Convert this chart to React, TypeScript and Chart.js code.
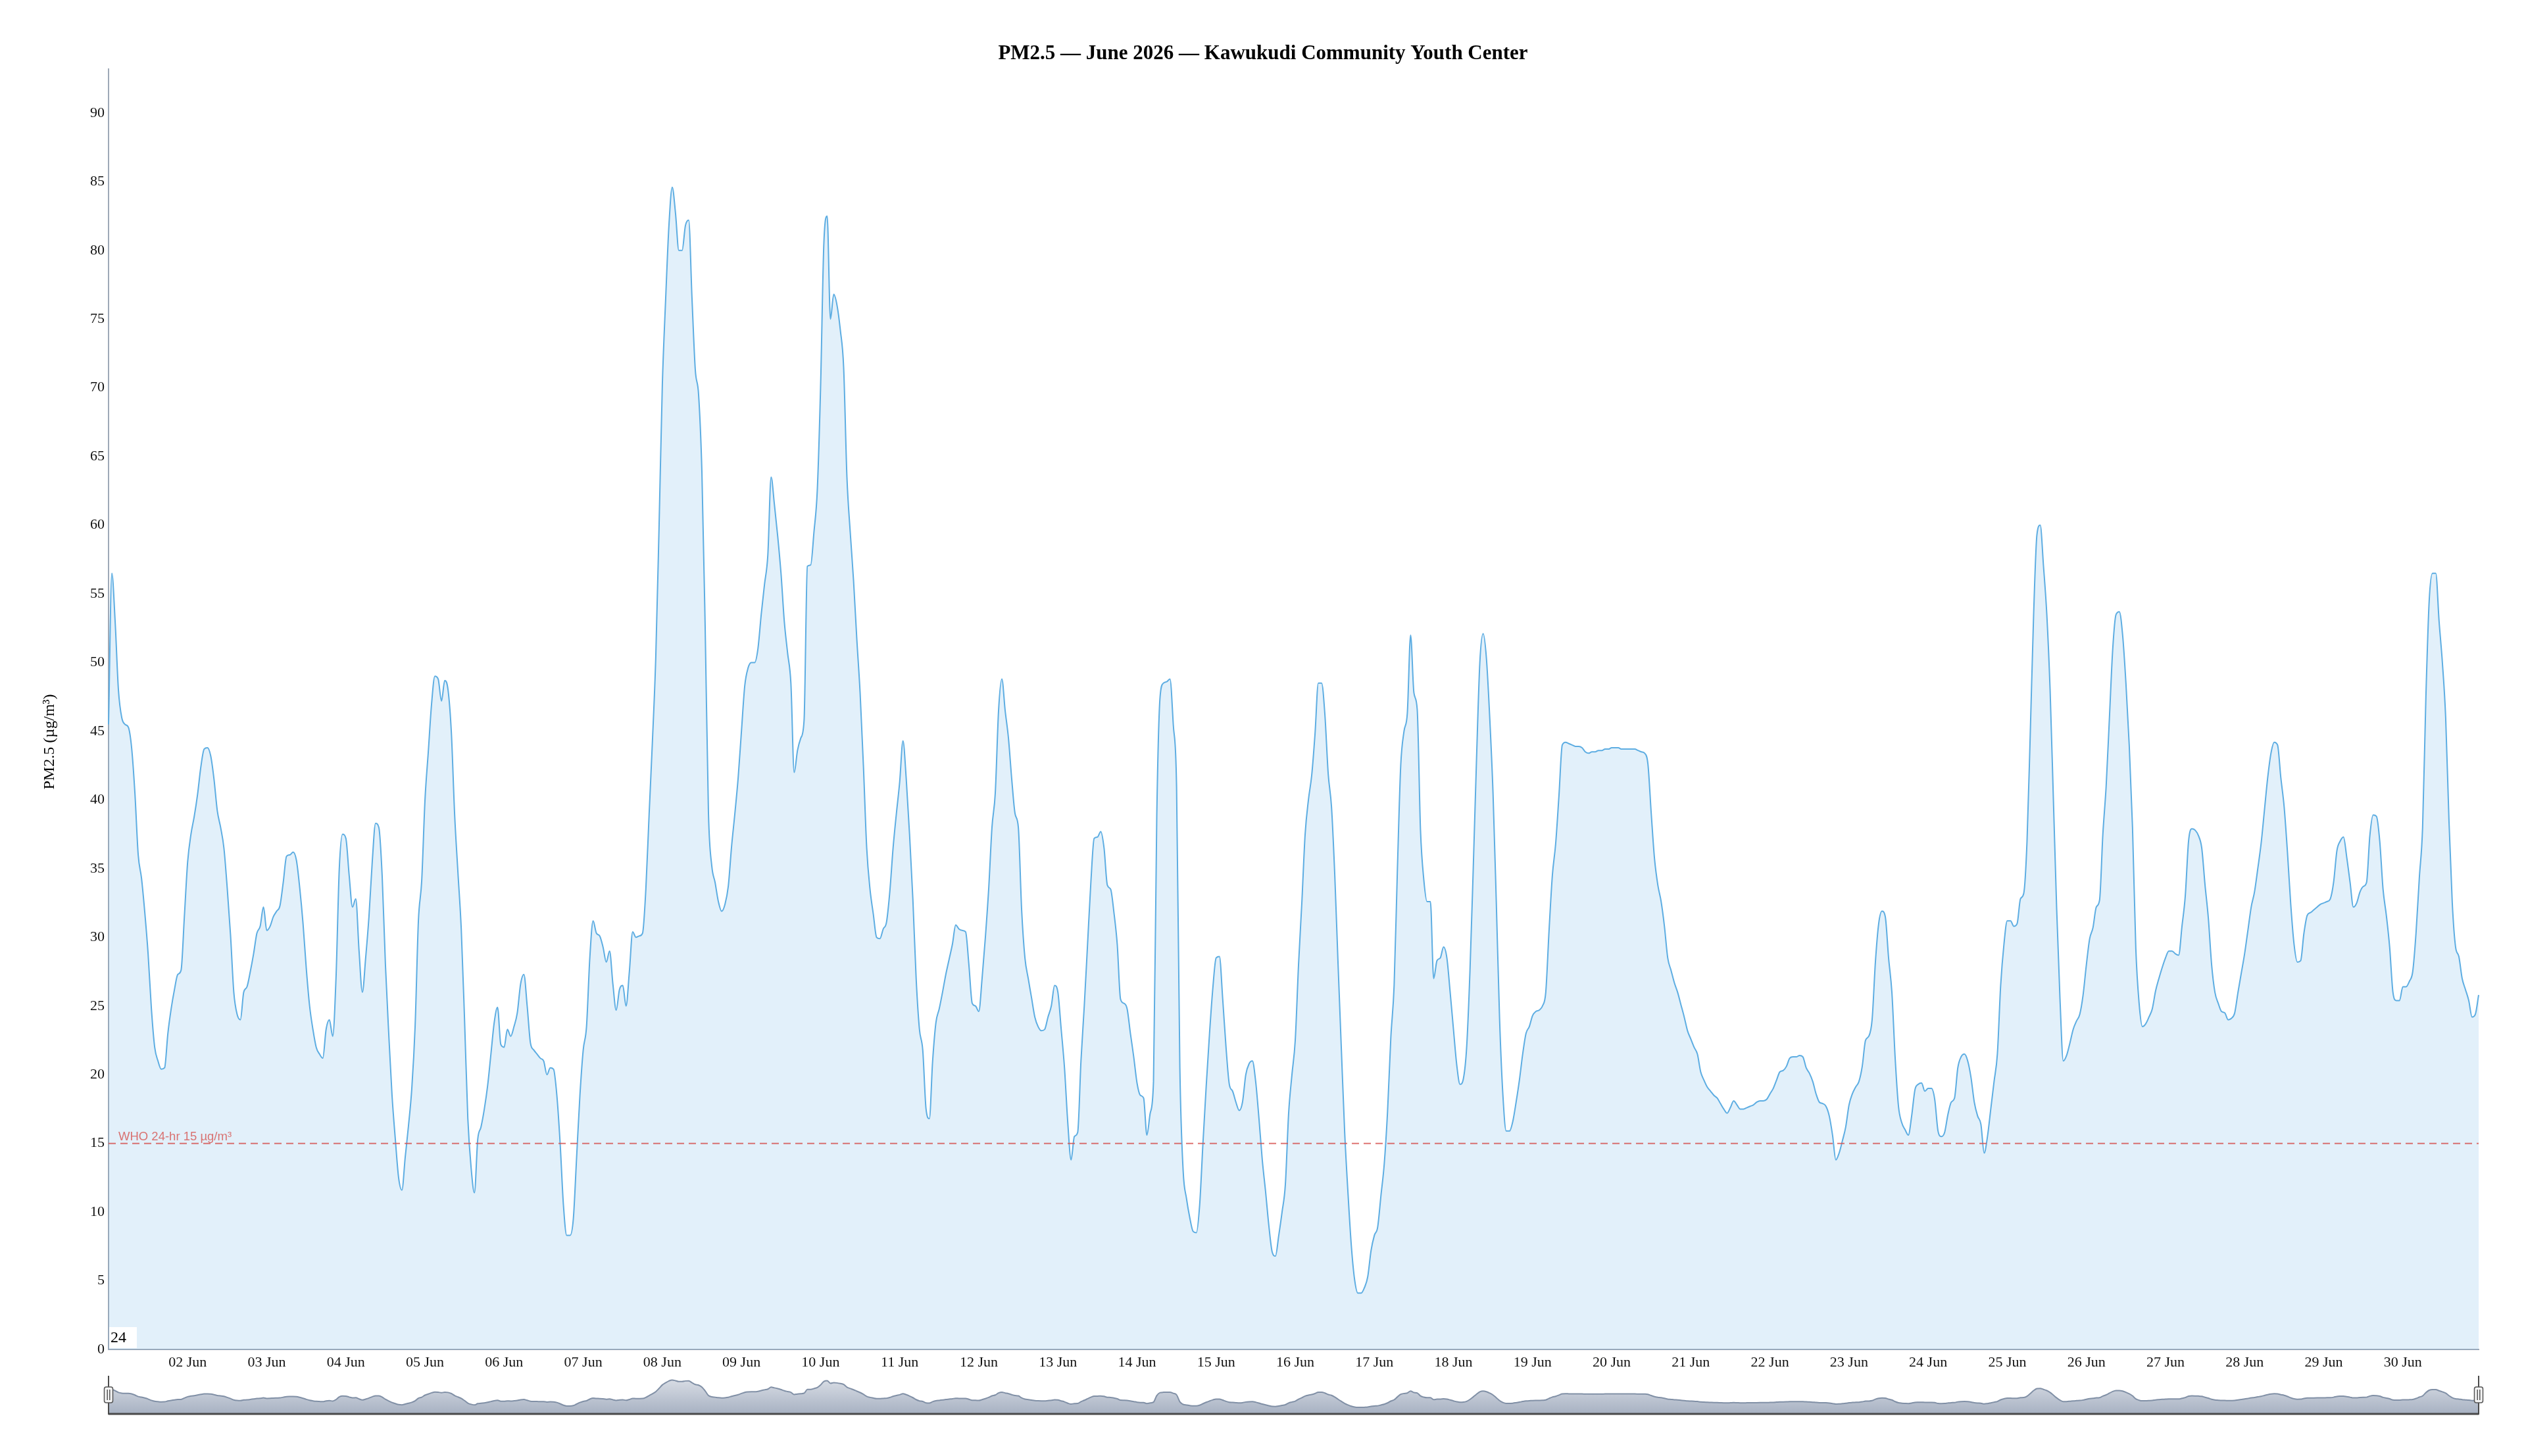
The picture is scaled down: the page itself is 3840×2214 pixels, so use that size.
import React, { useEffect, useRef } from "react";
import { Chart, registerables } from "chart.js";

Chart.register(...registerables);

const CANVAS_W = 3840;
const CANVAS_H = 2214;

const TITLE = "PM2.5 — June 2026 — Kawukudi Community Youth Center";
const Y_AXIS_TITLE = "PM2.5 (µg/m³)";
const WHO_LIMIT = 15;
const WHO_LABEL = "WHO 24-hr 15 µg/m³";
const Y_MIN = 0;
const Y_MAX = 93.2;
const Y_STEP = 5;
const CORNER_LABEL = "24";
const HOURS_PER_DAY = 24;
const SLIDER_MIN = -15;
const SLIDER_MAX = 97;

const dayLabels = [
  "01 Jun", "02 Jun", "03 Jun", "04 Jun", "05 Jun", "06 Jun", "07 Jun", "08 Jun", "09 Jun", "10 Jun",
  "11 Jun", "12 Jun", "13 Jun", "14 Jun", "15 Jun", "16 Jun", "17 Jun", "18 Jun", "19 Jun", "20 Jun",
  "21 Jun", "22 Jun", "23 Jun", "24 Jun", "25 Jun", "26 Jun", "27 Jun", "28 Jun", "29 Jun", "30 Jun",
];

// Hourly PM2.5 (µg/m³), one row per day
const pm25Jun01to05 = [
  45.5, 56.5, 53, 48, 46, 45.5, 45.3, 43.8, 40.5, 36, 34.3, 31.8, 28.8, 24.8, 22, 21, 20.4, 20.5, 23, 24.8, 26.2, 27.3, 27.6, 31.5,
  35.5, 37.5, 38.8, 40.4, 42.4, 43.7, 43.8, 43.2, 41.5, 39.2, 38, 36.5, 33.6, 30.2, 26, 24.4, 24, 26, 26.4, 27.5, 28.8, 30.3, 30.8, 32.2,
  30.5, 30.8, 31.5, 31.9, 32.3, 34, 35.9, 36, 36.2, 35.6, 33.6, 31, 27.7, 25, 23.3, 22, 21.5, 21.2, 23.3, 24, 22.8, 27, 35, 37.5,
  37.2, 34.5, 32.2, 32.8, 29, 26, 28.5, 31.5, 35.5, 38.3, 38, 34.5, 28, 23, 18.5, 15.3, 12.5, 11.6, 14, 16.3, 19, 23.5, 31.2, 34.1,
  40, 43.5, 47, 49, 48.8, 47.2, 48.7, 48, 44.9, 38.9, 34.7, 30.6, 24, 16.8, 13.2, 11.4, 15.3, 16.2, 17.5, 19.2, 21.5, 23.8, 24.9, 22.2,
];
const pm25Jun06to10 = [
  22, 23.3, 22.8, 23.5, 24.5, 26.6, 27.3, 25, 22.3, 21.8, 21.5, 21.2, 21, 20, 20.5, 20.4, 18.5, 15, 10.5, 8.3, 8.3, 9.5, 14, 18.5,
  21.8, 23.5, 28.5, 31.2, 30.3, 30.1, 29.3, 28.2, 29, 26.6, 24.7, 26.2, 26.5, 25, 27.5, 30.4, 30, 30.1, 30.3, 33.5, 39, 44.3, 50.3, 59.8,
  70.2, 76.4, 81.8, 84.6, 82.7, 80, 80, 81.8, 82.2, 76.5, 71.3, 69.5, 63.9, 52.5, 39, 35.2, 34, 32.6, 31.9, 32.4, 33.7, 36.6, 39, 41.6,
  45, 48.3, 49.6, 50, 50, 51, 53.5, 55.7, 57.8, 63.5, 61.5, 59.2, 56.5, 53, 50.7, 48.5, 42, 43.6, 44.5, 45.8, 57, 57.1, 59.5, 62.5,
  70, 80.5, 82.5, 75, 76.8, 76, 74.2, 71.5, 63.5, 59.5, 56, 51.7, 47.8, 42.5, 36.5, 33.5, 31.7, 30, 29.9, 30.6, 31.1, 33.3, 36.5, 39,
];
const pm25Jun11to15 = [
  41.3, 44.3, 41.5, 37.5, 32.8, 27, 23.3, 21.8, 17.5, 16.8, 21, 23.8, 24.8, 26, 27.3, 28.4, 29.5, 30.9, 30.6, 30.5, 30.4, 28, 25.2, 25,
  24.6, 27, 30, 33.5, 38, 40.5, 46.5, 48.8, 46.5, 44.5, 41.5, 39, 38, 32, 28.5, 27, 25.6, 24.2, 23.5, 23.2, 23.3, 24.2, 25, 26.5,
  26, 23.3, 20.5, 16.5, 13.8, 15.5, 15.8, 21, 25, 29.5, 34, 37.2, 37.3, 37.7, 36.5, 33.8, 33.5, 31.8, 29.5, 25.5, 25.2, 24.8, 23, 21.3,
  19.4, 18.5, 18.3, 15.6, 17.2, 19.5, 38.9, 47.5, 48.5, 48.6, 48.8, 45.5, 41, 20.5, 13, 11, 9.6, 8.6, 8.5, 10.5, 15, 19.2, 23, 26.3,
  28.5, 28.6, 25.5, 22, 19.3, 18.8, 18, 17.4, 18, 20, 20.8, 21, 19.5, 16.8, 13.8, 11.5, 9, 7.1, 6.8, 8.3, 10, 12, 17.2, 20,
];
const pm25Jun16to20 = [
  22.5, 28, 32.5, 37.5, 40, 41.8, 44.8, 48.5, 48.5, 46.2, 41.9, 39.5, 34.5, 28, 21.8, 15.8, 11.4, 7.6, 5.1, 4.1, 4.1, 4.5, 5.3, 7.2,
  8.3, 8.9, 11.2, 13.5, 17.3, 22.7, 26.5, 35, 42.5, 45, 46.3, 52, 47.8, 46.6, 37.8, 34.2, 32.6, 32.6, 27, 28.3, 28.5, 29.3, 28.5, 26,
  23.3, 20.7, 19.3, 19.7, 22, 27.5, 35, 43, 50, 52.1, 50.3, 46, 40.5, 32.5, 24, 18.5, 15.9, 15.9, 16.6, 18, 19.6, 21.5, 23, 23.5,
  24.3, 24.6, 24.7, 25, 26, 30.5, 34.5, 36.8, 40.3, 44, 44.2, 44.1, 44, 43.9, 43.9, 43.8, 43.5, 43.4, 43.5, 43.5, 43.6, 43.6, 43.7, 43.7,
  43.8, 43.8, 43.8, 43.7, 43.7, 43.7, 43.7, 43.7, 43.6, 43.5, 43.4, 42.6, 39, 35.7, 33.8, 32.6, 30.8, 28.5, 27.6, 26.7, 26, 25.1, 24.2, 23.2,
];
const pm25Jun21to25 = [
  22.6, 22, 21.5, 20.2, 19.6, 19.1, 18.8, 18.5, 18.3, 17.9, 17.5, 17.2, 17.6, 18.1, 17.8, 17.5, 17.5, 17.6, 17.7, 17.8, 18, 18.1, 18.1, 18.2,
  18.6, 19, 19.6, 20.2, 20.3, 20.6, 21.2, 21.3, 21.3, 21.4, 21.3, 20.5, 20.1, 19.5, 18.6, 18, 17.9, 17.7, 17, 15.6, 13.8, 14.3, 15.2, 16.2,
  17.8, 18.6, 19.1, 19.5, 20.6, 22.5, 22.8, 24, 28.2, 31, 31.9, 31.5, 28.5, 26, 21.2, 17.7, 16.5, 16, 15.6, 17, 18.9, 19.3, 19.4, 18.8,
  19, 19, 18.2, 15.9, 15.5, 15.8, 17.1, 18, 18.3, 20.5, 21.3, 21.5, 21, 19.8, 18, 17, 16.4, 14.3, 15.5, 17.5, 19.5, 21.5, 26.5, 29.5,
  31.2, 31.2, 30.8, 31, 32.8, 33.2, 37, 45, 53.5, 59.3, 60, 57, 53.5, 48, 40, 32, 25.5, 21, 21.4, 22.3, 23.3, 23.9, 24.4, 25.8,
];
const pm25Jun26to30 = [
  28, 29.9, 30.7, 32.2, 32.7, 37.5, 41, 46, 51, 53.5, 53.7, 52, 48.5, 44, 38, 29.2, 25.2, 23.5, 23.7, 24.2, 24.8, 26.1, 27, 27.8,
  28.5, 29, 29, 28.8, 28.7, 30.8, 33, 37, 37.9, 37.8, 37.4, 36.5, 33.8, 31.4, 28, 26, 25.2, 24.6, 24.5, 24, 24.1, 24.5, 26, 27.4,
  28.8, 30.5, 32.2, 33.3, 35, 36.8, 39.2, 41.6, 43.4, 44.2, 44, 41.6, 39.5, 36.2, 32.4, 29.5, 28.2, 28.3, 30.3, 31.6, 31.8, 32, 32.2, 32.4,
  32.5, 32.6, 32.8, 34, 36.3, 37, 37.3, 35.8, 34, 32.2, 32.5, 33.3, 33.7, 34, 37.4, 38.9, 38.8, 37, 33.5, 31.6, 29.3, 26, 25.4, 25.4,
  26.4, 26.4, 26.8, 27.5, 30.3, 34.3, 38, 47.5, 54.5, 56.5, 56.5, 53, 50, 46, 38.5, 32.5, 29.3, 28.6, 27, 26.2, 25.4, 24.2, 24.4, 25.8,
];

const pm25 = [
  ...pm25Jun01to05,
  ...pm25Jun06to10,
  ...pm25Jun11to15,
  ...pm25Jun16to20,
  ...pm25Jun21to25,
  ...pm25Jun26to30,
];

const hourLabels = pm25.map(
  (_, i) =>
    `${dayLabels[Math.floor(i / HOURS_PER_DAY)]} ${String(i % HOURS_PER_DAY).padStart(2, "0")}:00`
);

const LINE_COLOR = "#5dade2";
const FILL_COLOR = "rgba(93,173,226,0.18)";
const AXIS_COLOR = "#9ea9b7";
const WHO_COLOR = "rgba(214,80,76,0.78)";
const SERIF = '"Liberation Serif", "Times New Roman", serif';
const SANS = '"Liberation Sans", Arial, sans-serif';

const overlayPlugin = {
  id: "overlay",
  afterDatasetsDraw(chart: any) {
    const { ctx, chartArea, scales } = chart;
    const y = scales.y.getPixelForValue(WHO_LIMIT);
    ctx.save();
    ctx.strokeStyle = WHO_COLOR;
    ctx.lineWidth = 2;
    ctx.setLineDash([11, 7]);
    ctx.beginPath();
    ctx.moveTo(chartArea.left, y);
    ctx.lineTo(chartArea.right, y);
    ctx.stroke();
    ctx.setLineDash([]);
    ctx.fillStyle = WHO_COLOR;
    ctx.font = `18.5px ${SANS}`;
    ctx.textAlign = "left";
    ctx.textBaseline = "alphabetic";
    ctx.fillText(WHO_LABEL, chartArea.left + 15, y - 5);

    ctx.fillStyle = "#ffffff";
    ctx.fillRect(chartArea.left + 1, chartArea.bottom - 34, 42, 32);
    ctx.fillStyle = "#000000";
    ctx.font = `24px ${SERIF}`;
    ctx.textBaseline = "middle";
    ctx.fillText(CORNER_LABEL, chartArea.left + 3, chartArea.bottom - 17);
    ctx.restore();
  },
  afterDraw(chart: any) {
    const { ctx } = chart;
    ctx.save();
    // chart title, centred on the full canvas width
    ctx.font = `bold 31px ${SERIF}`;
    ctx.fillStyle = "#000000";
    ctx.textAlign = "center";
    ctx.textBaseline = "middle";
    ctx.fillText(TITLE, chart.width / 2, 82);
    // y-axis name
    ctx.translate(76, 1128);
    ctx.rotate(-Math.PI / 2);
    ctx.font = `24px ${SERIF}`;
    ctx.fillText(Y_AXIS_TITLE, 0, 0);
    ctx.restore();
  },
};

const sliderPlugin = {
  id: "sliderDecor",
  afterDraw(chart: any) {
    const { ctx, chartArea: a } = chart;
    ctx.save();
    ctx.strokeStyle = "#4a4a4a";
    ctx.lineWidth = 3;
    ctx.beginPath();
    ctx.moveTo(a.left, a.bottom);
    ctx.lineTo(a.right, a.bottom);
    ctx.stroke();
    for (const x of [a.left, a.right]) {
      ctx.strokeStyle = "#4a4a4a";
      ctx.lineWidth = 2;
      ctx.beginPath();
      ctx.moveTo(x, a.top);
      ctx.lineTo(x, a.bottom + 1);
      ctx.stroke();
      const cy = a.top + 29;
      const hw = 6.5;
      const hh = 12;
      ctx.beginPath();
      if (ctx.roundRect) ctx.roundRect(x - hw, cy - hh, hw * 2, hh * 2, 3);
      else ctx.rect(x - hw, cy - hh, hw * 2, hh * 2);
      ctx.fillStyle = "#f4f4f4";
      ctx.fill();
      ctx.lineWidth = 1.5;
      ctx.strokeStyle = "#555555";
      ctx.stroke();
      ctx.beginPath();
      ctx.moveTo(x - 1.8, cy - 8);
      ctx.lineTo(x - 1.8, cy + 8);
      ctx.moveTo(x + 1.8, cy - 8);
      ctx.lineTo(x + 1.8, cy + 8);
      ctx.stroke();
    }
    ctx.restore();
  },
};

export default function App() {
  const mainRef = useRef<HTMLCanvasElement | null>(null);
  const sliderRef = useRef<HTMLCanvasElement | null>(null);

  useEffect(() => {
    document.body.style.margin = "0";
    document.body.style.overflow = "hidden";
    if (!mainRef.current || !sliderRef.current) return;

    const main = new Chart(mainRef.current, {
      type: "line",
      data: {
        labels: hourLabels,
        datasets: [
          {
            data: pm25,
            borderColor: LINE_COLOR,
            backgroundColor: FILL_COLOR,
            borderWidth: 2,
            fill: "origin",
            pointRadius: 0,
            pointHoverRadius: 0,
            tension: 0.3,
            cubicInterpolationMode: "monotone",
          },
        ],
      },
      options: {
        responsive: false,
        animation: false,
        devicePixelRatio: 1,
        events: [],
        layout: { padding: { left: 0, right: 72, top: 105, bottom: 0 } },
        plugins: {
          legend: { display: false },
          tooltip: { enabled: false },
          title: { display: false },
        },
        scales: {
          x: {
            type: "category",
            offset: false,
            z: 1,
            grid: { display: false, drawTicks: false },
            border: { display: true, color: AXIS_COLOR, width: 2 },
            ticks: {
              autoSkip: false,
              maxRotation: 0,
              minRotation: 0,
              padding: 7,
              color: "#111111",
              font: { family: SERIF, size: 22 },
              callback: (_v: any, i: number) =>
                i > 0 && i % HOURS_PER_DAY === 0 ? dayLabels[i / HOURS_PER_DAY] : "",
            },
            afterFit: (s: any) => {
              s.height = 162;
            },
          },
          y: {
            min: Y_MIN,
            max: Y_MAX,
            z: 1,
            grid: { display: false, drawTicks: false },
            border: { display: true, color: AXIS_COLOR, width: 2 },
            ticks: {
              stepSize: Y_STEP,
              padding: 6,
              color: "#111111",
              font: { family: SERIF, size: 22 },
            },
            afterBuildTicks: (s: any) => {
              s.ticks = s.ticks.filter((t: any) => Math.abs(t.value % Y_STEP) < 1e-9);
            },
            afterFit: (s: any) => {
              s.width = 165;
            },
          },
        },
      },
      plugins: [overlayPlugin],
    } as any);

    const slider = new Chart(sliderRef.current, {
      type: "line",
      data: {
        labels: hourLabels,
        datasets: [
          {
            data: pm25,
            borderColor: "#8190a6",
            borderWidth: 2,
            fill: "start",
            backgroundColor: (c: any) => {
              const area = c.chart.chartArea;
              if (!area) return "#c0c7d2";
              const g = c.chart.ctx.createLinearGradient(0, area.top, 0, area.bottom);
              g.addColorStop(0, "#dde1e8");
              g.addColorStop(1, "#a7b1c2");
              return g;
            },
            pointRadius: 0,
            tension: 0.3,
            cubicInterpolationMode: "monotone",
          },
        ],
      },
      options: {
        responsive: false,
        animation: false,
        devicePixelRatio: 1,
        events: [],
        layout: { padding: { left: 15, right: 16, top: 7, bottom: 7 } },
        plugins: {
          legend: { display: false },
          tooltip: { enabled: false },
          title: { display: false },
        },
        scales: {
          x: { display: false, offset: false },
          y: { display: false, min: SLIDER_MIN, max: SLIDER_MAX },
        },
      },
      plugins: [sliderPlugin],
    } as any);

    return () => {
      main.destroy();
      slider.destroy();
    };
  }, []);

  return (
    <div
      style={{
        position: "fixed",
        left: 0,
        top: 0,
        width: CANVAS_W,
        height: CANVAS_H,
        background: "#ffffff",
        overflow: "hidden",
      }}
    >
      <canvas
        ref={mainRef}
        width={CANVAS_W}
        height={CANVAS_H}
        style={{ position: "absolute", left: 0, top: 0, width: CANVAS_W, height: CANVAS_H }}
      />
      <canvas
        ref={sliderRef}
        width={3634}
        height={72}
        style={{ position: "absolute", left: 150, top: 2085, width: 3634, height: 72 }}
      />
    </div>
  );
}
